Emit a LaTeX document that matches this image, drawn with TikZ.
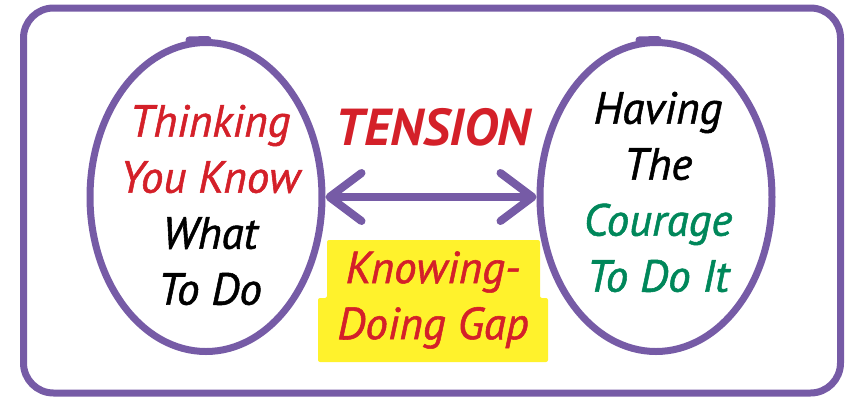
\documentclass[tikz,border=0pt]{standalone}
\usepackage{fontspec}
\setmainfont{PT Sans}
\newfontfamily\handfont{PT Sans}[FakeBold=1.2]
\usetikzlibrary{shapes.geometric,arrows.meta,positioning}
\definecolor{frame}{HTML}{765BA6}
\definecolor{tred}{HTML}{D42029}
\definecolor{tgreen}{HTML}{00875A}
\definecolor{hilite}{HTML}{FFF22C}

\begin{document}
\begin{tikzpicture}[x=1pt,y=-1pt,
    bubble/.style={ellipse,draw=frame,line width=7pt,minimum width=232pt,minimum height=309pt,inner sep=0pt},
    overlap/.style={frame,line width=7pt,line cap=round},
    words/.style={align=center,font=\handfont\fontsize{45}{56}\selectfont\itshape},
    >={Straight Barb[length=32pt,width=48pt,round]}]
  \useasboundingbox (0,0) rectangle (847,397);
  % outer frame
  \draw[frame,line width=7pt,rounded corners=30pt] (23.5,8) rectangle (840.5,393);
  % the two sides
  \node[bubble] (think) at (206,197) {};
  \node[bubble] (have) at (656,197) {};
  \draw[overlap] ([shift={(-17,1)}]think.north) -- ([shift={(2,0.5)}]think.north);
  \draw[overlap] ([shift={(-17,1)}]have.north) -- ([shift={(2,0.5)}]have.north);
  \node[words] (thinktext) at (210,205) {\textcolor{tred}{Thinking}\\\textcolor{tred}{You Know}\\What\\To Do};
  \node[words] (havetext) at (658,192) {Having\\The\\\textcolor{tgreen}{Courage}\\\textcolor{tgreen}{To Do It}};
  % tension between them
  \node[text=tred,font=\fontsize{52}{56}\selectfont\bfseries\itshape] (tension) at (433,127) {TENSION};
  \draw[frame,line width=8pt,line cap=round,<->] (think.east) -- (have.west);
  % the gap
  \fill[hilite,rounded corners=2pt] (327,240) -- (540,240) -- (540,298) -- (548,298) -- (548,362)
    -- (318,362) -- (318,298) -- (327,298) -- cycle;
  \node[words,text=tred] (gap) at (433,300) {Knowing-\\Doing Gap};
\end{tikzpicture}
\end{document}
